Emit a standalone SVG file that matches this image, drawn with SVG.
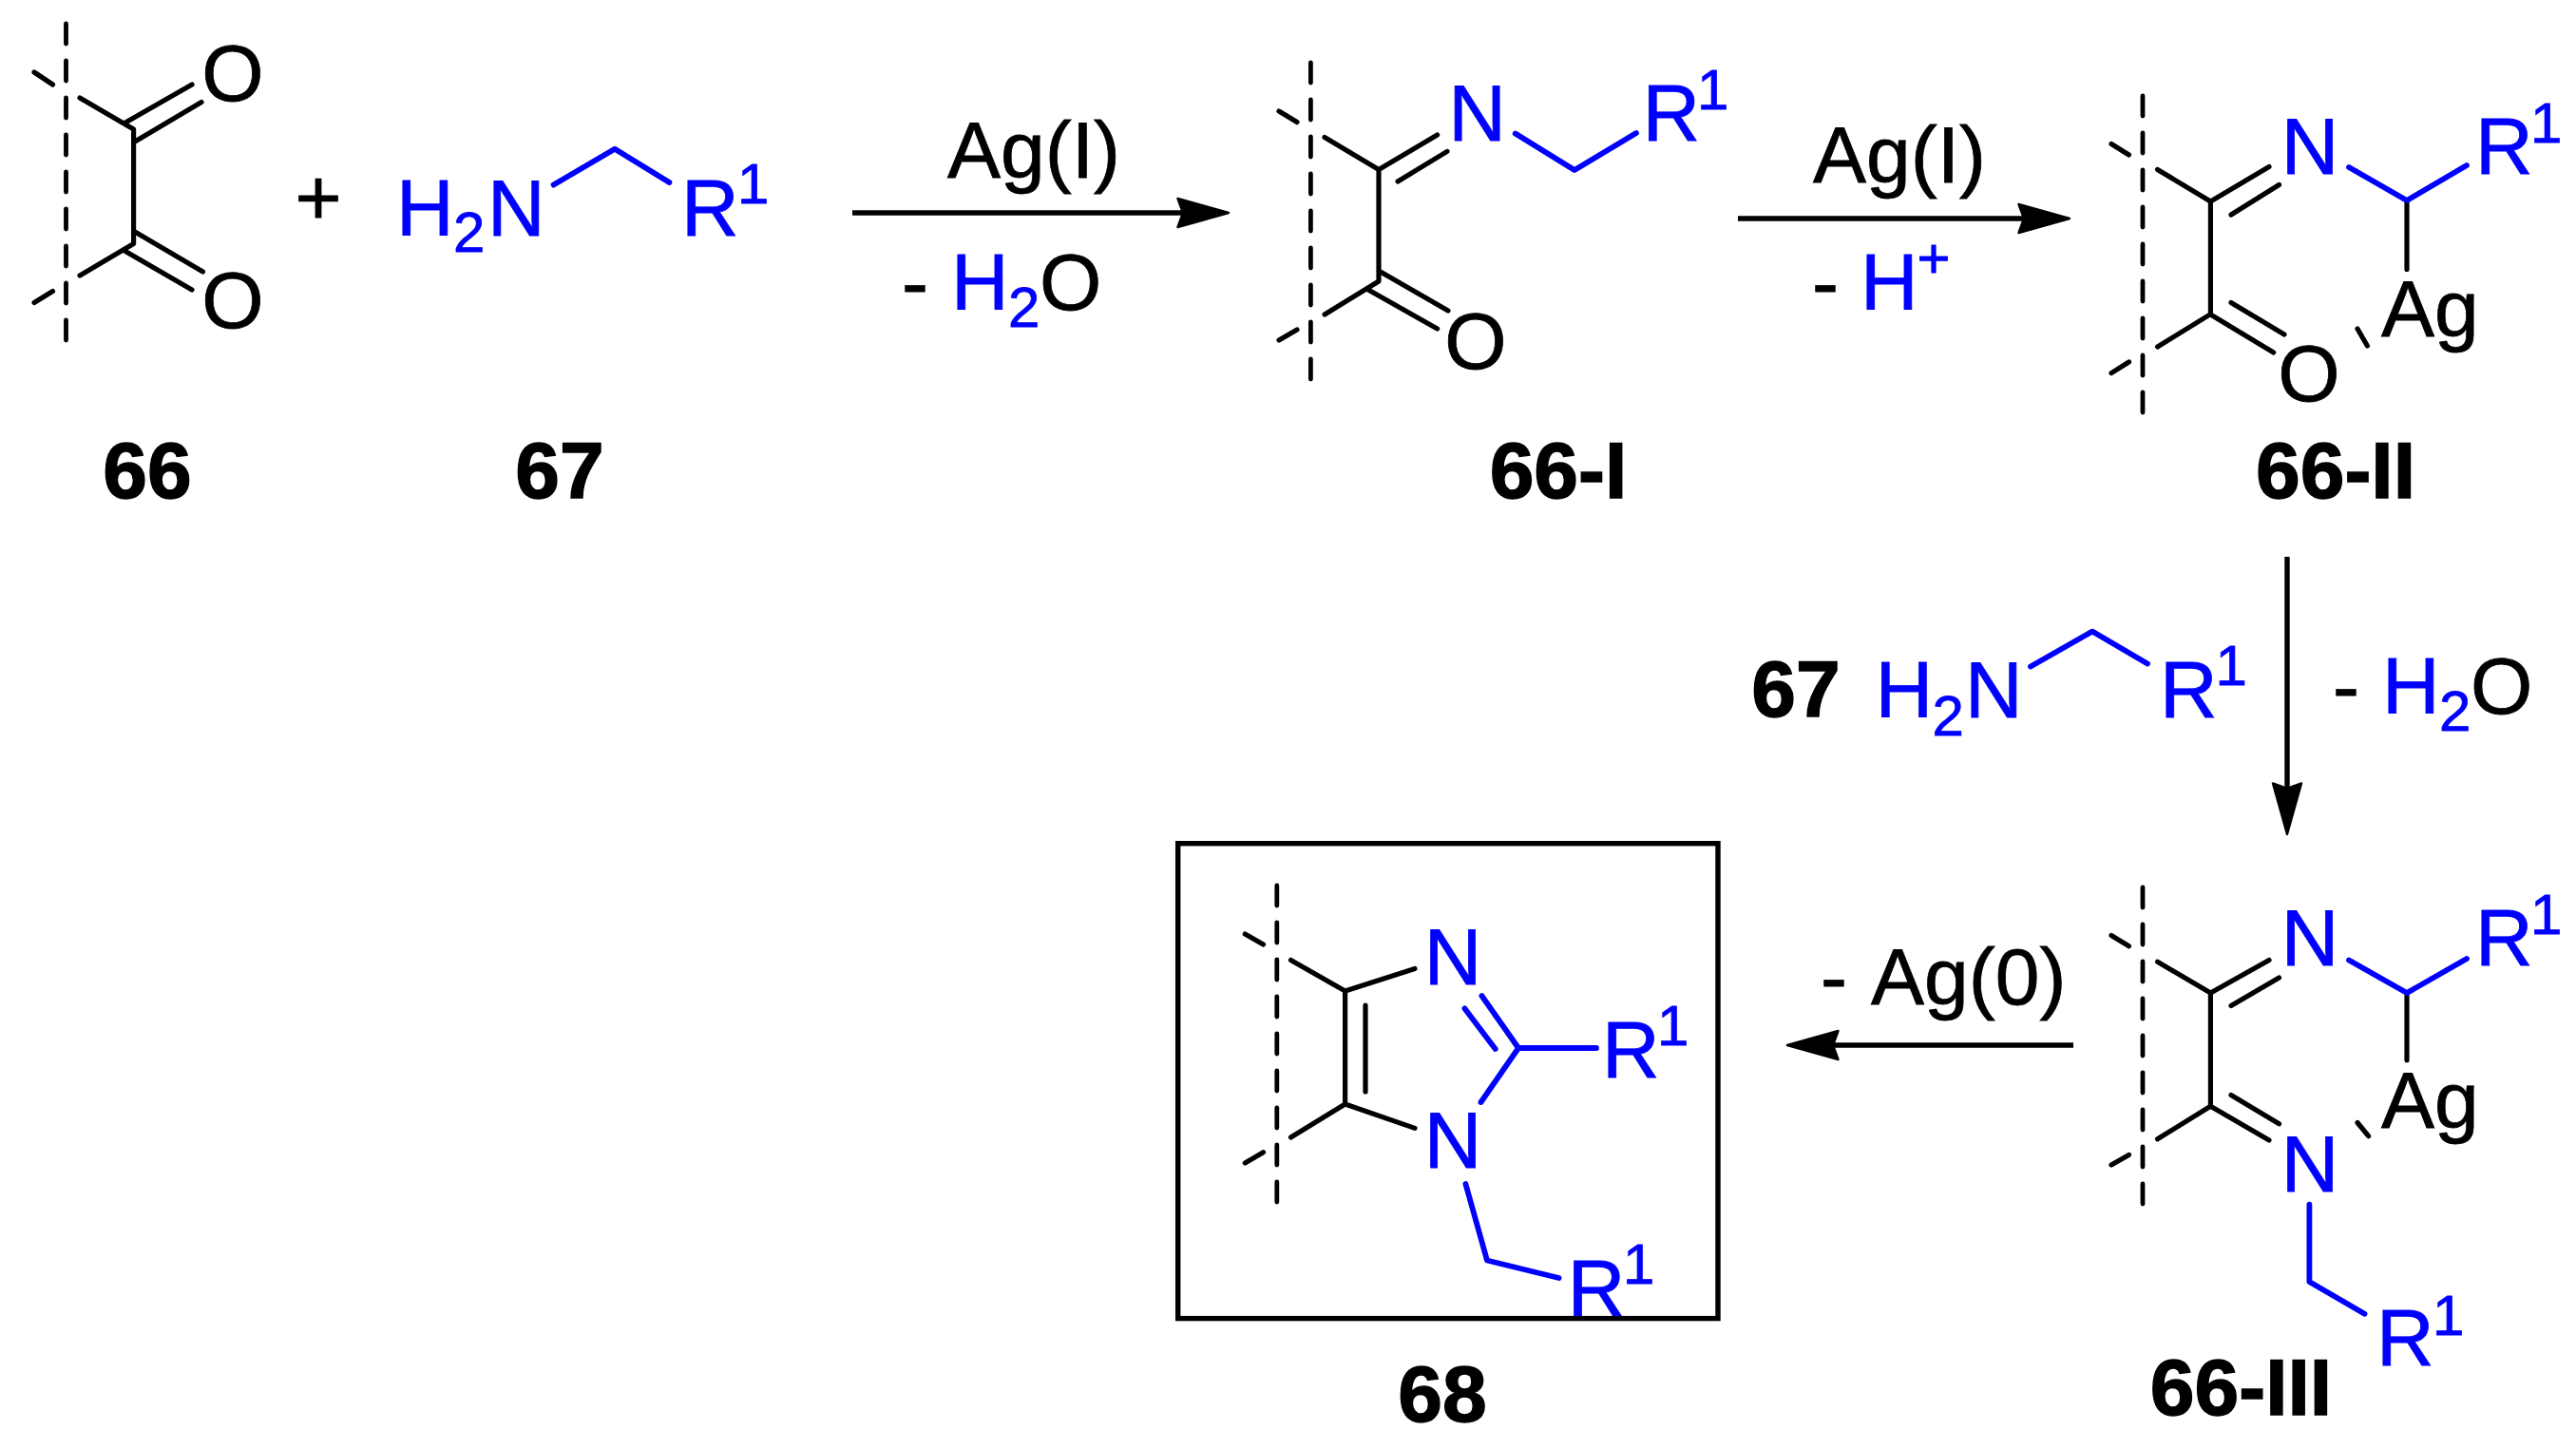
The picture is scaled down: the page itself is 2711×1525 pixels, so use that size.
<svg xmlns="http://www.w3.org/2000/svg" width="2711" height="1525" viewBox="0 0 2711 1525">
<style>
text{font-family:"Liberation Sans",Arial,sans-serif;font-size:84px;fill:#000;stroke:#000;stroke-width:.8}
.c{fill:#0000ff;stroke:#0000ff}
.m{text-anchor:middle}
.s{font-size:60px}
.n{font-weight:700;stroke-width:1.4}
.k,.u,.d,.a{fill:none;stroke-linecap:round;stroke-linejoin:round}
.k{stroke:#000;stroke-width:5.2}
.u{stroke:#0000ff;stroke-width:5.8}
.d{stroke:#000;stroke-width:4.8;stroke-dasharray:21 18}
.a{stroke:#000;stroke-width:5.4;stroke-linecap:butt}
.b{fill:none;stroke:#000;stroke-width:5.4}
</style>
<defs>
<marker id="head" markerUnits="userSpaceOnUse" markerWidth="60" markerHeight="40" refX="6" refY="16" orient="auto" overflow="visible">
<path d="M0.5,1 L54,16 L0.5,31 L6,16Z" fill="#000" stroke="#000" stroke-width="2.4" stroke-linejoin="round"/>
</marker>
</defs>
<rect width="2711" height="1525" fill="#fff"/>
<g id="connectors">
<line class="a" x1="897" y1="224" x2="1245" y2="224" marker-end="url(#head)"/>
<line class="a" x1="1829" y1="230" x2="2130" y2="230" marker-end="url(#head)"/>
<line class="a" x1="2407" y1="586" x2="2407" y2="830" marker-end="url(#head)"/>
<line class="a" x1="2182" y1="1100" x2="1929" y2="1100" marker-end="url(#head)"/>
</g>
<g id="node-66">
<path class="d" d="M69.5,25V362"/>
<path class="k" d="M36,76L55.5,89M55.5,306.5L36,318.5M84,103L140.6,136V256.5L84,290M132,129L202,89M142,149L212,107.5M142,244L213.5,286M132,264.5L202,305"/>
<text class="m" x="245" y="106">O</text>
<text class="m" x="245" y="345">O</text>
<text class="n m" x="155" y="524">66</text>
</g>
<text id="plus" class="m" x="335" y="236">+</text>
<g id="node-67">
<path class="u" d="M582.6,194.6L647,156.7L704.4,192"/>
<text class="c"><tspan x="417" y="248">H</tspan><tspan class="s" x="477" y="265">2</tspan><tspan x="513" y="248">N</tspan><tspan x="717" y="248">R</tspan><tspan class="s" x="776" y="214">1</tspan></text>
<text class="n m" x="589" y="524">67</text>
</g>
<g id="label-step1">
<text x="997" y="187">Ag(I)</text>
<text x="949" y="325.5">-</text>
<text class="c"><tspan x="1001" y="325.5">H</tspan><tspan class="s" x="1061" y="343.5">2</tspan></text>
<text x="1094" y="325.5">O</text>
</g>
<g id="node-66-I">
<path class="d" d="M1379.4,66V402"/>
<path class="k" d="M1346,117L1365,128.5M1365,347L1346,358M1394,144.6L1451,178.4V296L1394,331M1451,178.4L1512.6,142M1471,191L1523,159.4M1451,285L1524,327M1440,305L1512.6,346"/>
<path class="u" d="M1594.7,140.5L1657,179L1722,140"/>
<text class="c m" x="1554.5" y="148">N</text>
<text class="c"><tspan x="1728.5" y="148">R</tspan><tspan class="s" x="1786" y="115">1</tspan></text>
<text class="m" x="1553" y="388">O</text>
<text class="n m" x="1640" y="524">66-I</text>
</g>
<g id="label-step2">
<text x="1908" y="192">Ag(I)</text>
<text x="1907" y="325.5">-</text>
<text class="c"><tspan x="1958" y="325.5">H</tspan><tspan class="s" x="2017.5" y="291.5">+</tspan></text>
</g>
<g id="node-66-II">
<path class="d" d="M2255,101V436"/>
<path class="k" d="M2222,151.5L2240.5,163M2240.5,381L2222,392.6M2270.6,178.4L2326.4,212V330.6L2270.6,365M2326.4,212L2388,175.6M2348,226L2398.5,194.5M2326.4,331L2392.7,371M2348,318.5L2404,352M2533,211V283.4M2481,346L2491.4,364"/>
<path class="u" d="M2472,176L2533,211L2596,174"/>
<text class="c m" x="2431" y="182.5">N</text>
<text class="c"><tspan x="2605" y="182.5">R</tspan><tspan class="s" x="2663" y="150">1</tspan></text>
<text x="2506" y="353.5">Ag</text>
<text class="m" x="2430" y="421.5">O</text>
<text class="n m" x="2458" y="524">66-II</text>
</g>
<g id="label-step3">
<text class="n m" x="1890" y="754">67</text>
<path class="u" d="M2137,701.5L2202,664.6L2260,698.5"/>
<text class="c"><tspan x="1973.6" y="755">H</tspan><tspan class="s" x="2033.5" y="773.5">2</tspan><tspan x="2068" y="755">N</tspan><tspan x="2273" y="755">R</tspan><tspan class="s" x="2331.5" y="721">1</tspan></text>
<text x="2455" y="751">-</text>
<text class="c"><tspan x="2507" y="751">H</tspan><tspan class="s" x="2567" y="768.5">2</tspan></text>
<text x="2600" y="751">O</text>
</g>
<g id="node-66-III">
<path class="d" d="M2255,934V1270"/>
<path class="k" d="M2222,984.6L2240.5,995.7M2240.5,1215.4L2222,1226M2270.6,1012.3L2326.4,1045V1164.3L2270.6,1198.8M2326.4,1045L2388,1010.5M2348,1058.5L2398.5,1029M2326.4,1164.3L2388,1200M2348,1152.6L2398.5,1182.8M2533,1045V1115.7M2481,1181.5L2492.6,1195.7"/>
<path class="u" d="M2472,1010.5L2533,1045L2596,1009M2430.4,1267.7V1349L2488.5,1382.8"/>
<text class="c m" x="2431" y="1015.5">N</text>
<text class="c"><tspan x="2605" y="1015.5">R</tspan><tspan class="s" x="2663" y="983">1</tspan></text>
<text x="2506" y="1186.5">Ag</text>
<text class="c m" x="2431" y="1254">N</text>
<text class="c"><tspan x="2501" y="1437">R</tspan><tspan class="s" x="2560" y="1405">1</tspan></text>
<text class="n m" x="2358.5" y="1489">66-III</text>
</g>
<g id="label-step4"><text x="1916" y="1057">-</text><text x="1969" y="1057">Ag(0)</text></g>
<g id="node-68">
<text class="c"><tspan x="1649.8" y="1385">R</tspan><tspan class="s" x="1708" y="1351">1</tspan></text>
<rect class="b" x="1239.7" y="887.7" width="568.3" height="499.9"/>
<path class="d" d="M1343.8,932V1268"/>
<path class="k" d="M1310.3,983L1329.5,994M1329.5,1212.8L1310.3,1224M1358.5,1010.5L1415.6,1043V1162L1358.5,1197M1437,1058V1149M1415.6,1043L1489,1019.5M1415.6,1162L1489,1187.4"/>
<path class="u" d="M1559.4,1048L1598,1103M1541.5,1061.4L1573.7,1104M1558.5,1160L1598,1103H1680M1542.4,1246L1565,1326.5L1640.6,1345"/>
<text class="c m" x="1529" y="1036">N</text>
<text class="c m" x="1529" y="1229">N</text>
<text class="c"><tspan x="1686" y="1133.5">R</tspan><tspan class="s" x="1744" y="1100">1</tspan></text>
<text class="n m" x="1518" y="1496">68</text>
</g>
</svg>
